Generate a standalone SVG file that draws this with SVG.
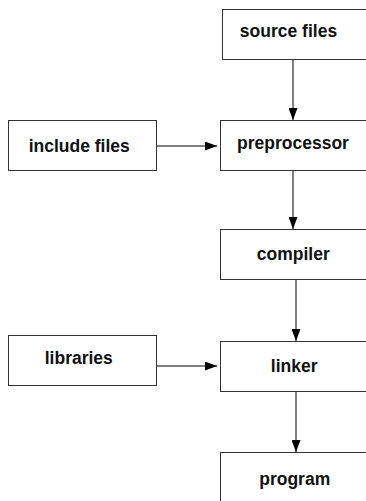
<svg xmlns="http://www.w3.org/2000/svg" width="366" height="501" viewBox="0 0 366 501">
  <defs>
    <marker id="arrow" markerUnits="userSpaceOnUse" markerWidth="12" markerHeight="9" refX="12" refY="4.5" orient="auto">
      <path d="M0,0 L12,4.5 L0,9 Z" fill="#000"/>
    </marker>
    <style>
      .box { fill: #fff; stroke: #333; stroke-width: 1; }
      .label { font-family: "Liberation Sans", Arial, Helvetica, sans-serif; font-weight: bold; font-size: 17.5px; fill: #111; text-anchor: middle; }
      .edge { fill: none; stroke: #000; stroke-width: 1; marker-end: url(#arrow); }
    </style>
  </defs>
  <rect width="366" height="501" fill="#fff"/>

  <g id="edges">
    <line class="edge" x1="293" y1="59.5" x2="293" y2="120"/>
    <line class="edge" x1="156.5" y1="146" x2="217" y2="146"/>
    <line class="edge" x1="293" y1="170.5" x2="293" y2="229"/>
    <line class="edge" x1="296" y1="279.5" x2="296" y2="341"/>
    <line class="edge" x1="156.5" y1="366" x2="217" y2="366"/>
    <line class="edge" x1="296" y1="391" x2="296" y2="452"/>
  </g>

  <g id="source-files">
    <rect class="box" x="222.5" y="9.5" width="150" height="50"/>
    <text class="label" x="288.5" y="36.7">source files</text>
  </g>
  <g id="include-files">
    <rect class="box" x="8.5" y="120.5" width="148" height="50"/>
    <text class="label" x="79.2" y="152">include files</text>
  </g>
  <g id="preprocessor">
    <rect class="box" x="220.5" y="120.5" width="150" height="50"/>
    <text class="label" x="293" y="148.5">preprocessor</text>
  </g>
  <g id="compiler">
    <rect class="box" x="220.5" y="229.5" width="150" height="50"/>
    <text class="label" x="293.3" y="260">compiler</text>
  </g>
  <g id="libraries">
    <rect class="box" x="8.5" y="335.5" width="148" height="50"/>
    <text class="label" x="78.8" y="363.5">libraries</text>
  </g>
  <g id="linker">
    <rect class="box" x="220.5" y="341.5" width="150" height="50"/>
    <text class="label" x="294.2" y="371.7">linker</text>
  </g>
  <g id="program">
    <rect class="box" x="220.5" y="452.5" width="150" height="50"/>
    <text class="label" x="294.7" y="485">program</text>
  </g>
</svg>
